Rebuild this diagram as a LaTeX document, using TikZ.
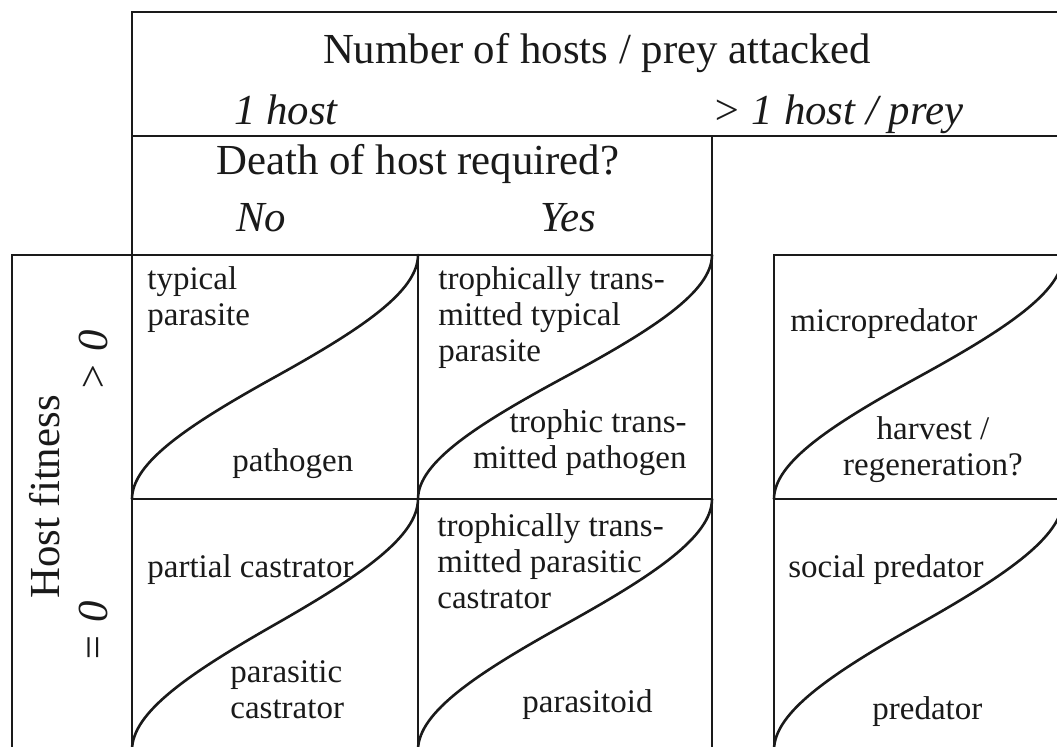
\documentclass[tikz,border=0pt]{standalone}
\usepackage{fontspec}
\setmainfont{Liberation Serif}
\usepackage{tikz}
\usetikzlibrary{positioning,calc}
\definecolor{ink}  {HTML}{1A1A1A}
\definecolor{paper}{HTML}{FFFFFF}
\tikzset{
  % --- nodes
  head/.style   = {font=\fontsize{21.4}{24}\selectfont, text=ink, inner sep=0pt},
  headit/.style = {head, font=\fontsize{21.4}{24}\selectfont\itshape},
  cell/.style   = {font=\fontsize{16.5}{18}\selectfont, text=ink, inner sep=0pt},
  % --- lines
  rule/.style   = {draw=ink, line width=1pt},
  scurve/.style = {draw=ink, line width=1.3pt, line cap=round},
}

\begin{document}
\begin{tikzpicture}[x=0.5pt,y=-0.5pt]
  \useasboundingbox (0,0) rectangle (1057,747);
  \clip (0,0) rectangle (1057,747);
  \fill[paper] (0,0) rectangle (1057,747);

  % header frame
  \draw[rule] (132,747) -- (132,12) -- (1057,12);
  \draw[rule] (132,136) -- (1057,136);
  \draw[rule] (712,136) -- (712,747);
  % table body
  \draw[rule] (12,747) -- (12,255) -- (712,255);
  \draw[rule] (418,255) -- (418,747);
  \draw[rule] (132,499) -- (712,499);
  \draw[rule] (1057,255) -- (774,255) -- (774,747);
  \draw[rule] (774,499) -- (1057,499);

  % one s-curve per cell: bottom left corner to top right corner
  \foreach \xa/\xb/\ya/\yb in {
    132/418/255/499, 418/712/255/499, 774/1063/255/499,
    132/418/499/750, 418/712/499/750, 774/1063/499/750}
  {
    \pgfmathsetmacro{\w}{\xb-\xa}
    \pgfmathsetmacro{\h}{\yb-\ya}
    \draw[scurve] (\xa,\yb)
      .. controls (\xa,{\yb-0.15*\h}) and ({\xa+0.2*\w},{\yb-0.305*\h})
      .. ({\xa+0.5*\w},{\yb-0.5*\h})
      .. controls ({\xa+0.8*\w},{\yb-0.695*\h}) and (\xb,{\yb-0.85*\h})
      .. (\xb,\ya);
  }

  % headings
  \node[head, anchor=base] (nhosts) at (597,64) {Number of hosts / prey attacked};
  \node[headit, anchor=base west] (onehost) at (234,125) {1 host};
  \node[headit, anchor=base west] (manyhost) at (712,125) {> 1 host / prey};
  \node[head, anchor=base west] (death) at (216,175) {Death of host required?};
  \node[headit, anchor=base west] (no) at (236,232) {No};
  \node[headit, anchor=base west] (yes) at (540,232) {Yes};
  \node[head, rotate=90, anchor=base] (fitness) at (60,497) {Host fitness};
  \node[headit, rotate=90, anchor=base] (gtzero) at (107,361) {> 0};
  \node[headit, rotate=90, anchor=base] (eqzero) at (107,632) {= 0};

  % cells, upper row (base = last line)
  \node[cell, align=left, anchor=base west] (typpar) at (147,326) {typical\\parasite};
  \node[cell, anchor=base west] (pathogen) at (232,472) {pathogen};
  \node[cell, align=left, anchor=base west] (trtyp) at (438,362)
    {trophically trans-\\mitted typical\\parasite};
  \node[cell, align=right, anchor=base east] (trpath) at (687,469)
    {trophic trans-\\mitted pathogen};
  \node[cell, anchor=base west] (micro) at (790,332) {micropredator};
  \node[cell, align=center, anchor=base] (harvest) at (933,476)
    {harvest /\\regeneration?};

  % cells, lower row
  \node[cell, anchor=base west] (partial) at (147,578) {partial castrator};
  \node[cell, align=left, anchor=base west] (parcas) at (230,719) {parasitic\\castrator};
  \node[cell, align=left, anchor=base west] (trcas) at (437,609)
    {trophically trans-\\mitted parasitic\\castrator};
  \node[cell, anchor=base west] (parasitoid) at (522,713) {parasitoid};
  \node[cell, anchor=base west] (social) at (788,578) {social predator};
  \node[cell, anchor=base west] (predator) at (872,720) {predator};
\end{tikzpicture}
\end{document}
